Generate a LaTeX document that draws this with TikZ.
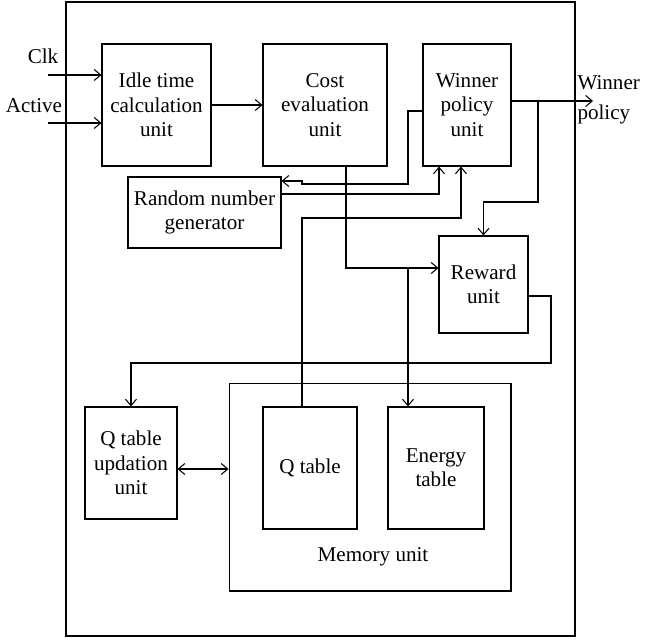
\documentclass[tikz,border=0pt]{standalone}
\usepackage{fontspec}
\setmainfont{Liberation Serif}
\usetikzlibrary{arrows.meta}

\begin{document}
\begin{tikzpicture}[
    x = 0.02cm, y = -0.02cm, line width = 0.6pt,
    >= {Straight Barb[length=1.3mm, width=2.2mm]},
    every node/.style = {font = \fontsize{12}{13.8}\selectfont, align = center},
    blk/.style = {draw, inner sep = 0pt, minimum height = 24.4mm},
    lbl/.style = {inner sep = 0pt}
  ]
  \useasboundingbox (0,0) rectangle (645,640);
  \draw (66,2) rectangle (575,636);

  % Blocks
  \node[blk, minimum width = 21.8mm] (idle) at (156.5,105)
    {Idle time\\calculation\\unit};
  \node[blk, minimum width = 24.8mm] (cost) at (325,105)
    {Cost\\evaluation\\unit};
  \node[blk, minimum width = 17.6mm] (winner) at (467,105)
    {Winner\\policy\\unit};
  \node[blk, minimum width = 30.6mm, minimum height = 14.2mm]
    (rng) at (204.5,212.5) {Random number\\generator};
  \node[blk, minimum width = 17.8mm, minimum height = 19.4mm]
    (reward) at (483.5,284.5) {Reward\\unit};
  \node[blk, minimum width = 18.4mm, minimum height = 22.4mm]
    (qupd) at (131,463) {Q table\\updation\\unit};
  \node[blk, minimum width = 56.4mm, minimum height = 41.6mm]
    (mem) at (370,487) {};
  \node[blk, minimum width = 18.8mm] (qtab) at (310,468) {Q table};
  \node[blk, minimum width = 19.2mm] (energy) at (436,468)
    {Energy\\table};
  \node[lbl] (memlbl) at (373,557) {Memory unit};

  % Labels
  \node[lbl] (clk) at (43,56) {Clk};
  \node[lbl] (active) at (34,106) {Active};
  \node[lbl, anchor = west, align = left] (wplbl) at (577,100)
    {Winner\\[3pt]policy};

  \coordinate (clkin) at (48,75);
  \coordinate (actin) at (48,123);
  \coordinate (wout) at (593,101);
  \coordinate (br1) at (538,101);
  \coordinate (br2) at (408,268);

  % Connectors
  \draw[->] (clkin) -- (clkin -| idle.west);
  \draw[->] (actin) -- (actin -| idle.west);
  \draw[->] (idle) -- (cost);
  \draw[->] (winner.east |- wout) -- (wout);
  \draw[->] (br1) -- (538,202) -| (reward.north);
  \draw[->] (winner.west |- 0,111) -| (408,184) -- (302,184)
    -- (302,181) -- (rng.east |- 0,181);
  \draw[->] (rng.east |- 0,194) -| (winner.south -| 439,0);
  \draw[->] (qtab.north -| 302,0) |- (461,218) -- (winner.south -| 461,0);
  \draw[->] (cost.south -| 346,0) |- (reward.west |- 0,268);
  \draw[->] (br2) -- (energy.north -| br2);
  \draw[->] (reward.east |- 0,296) -| (551,363) -| (qupd.north);
  \draw[<->] (qupd.east |- 0,469) -- (mem.west |- 0,469);

\end{tikzpicture}
\end{document}
